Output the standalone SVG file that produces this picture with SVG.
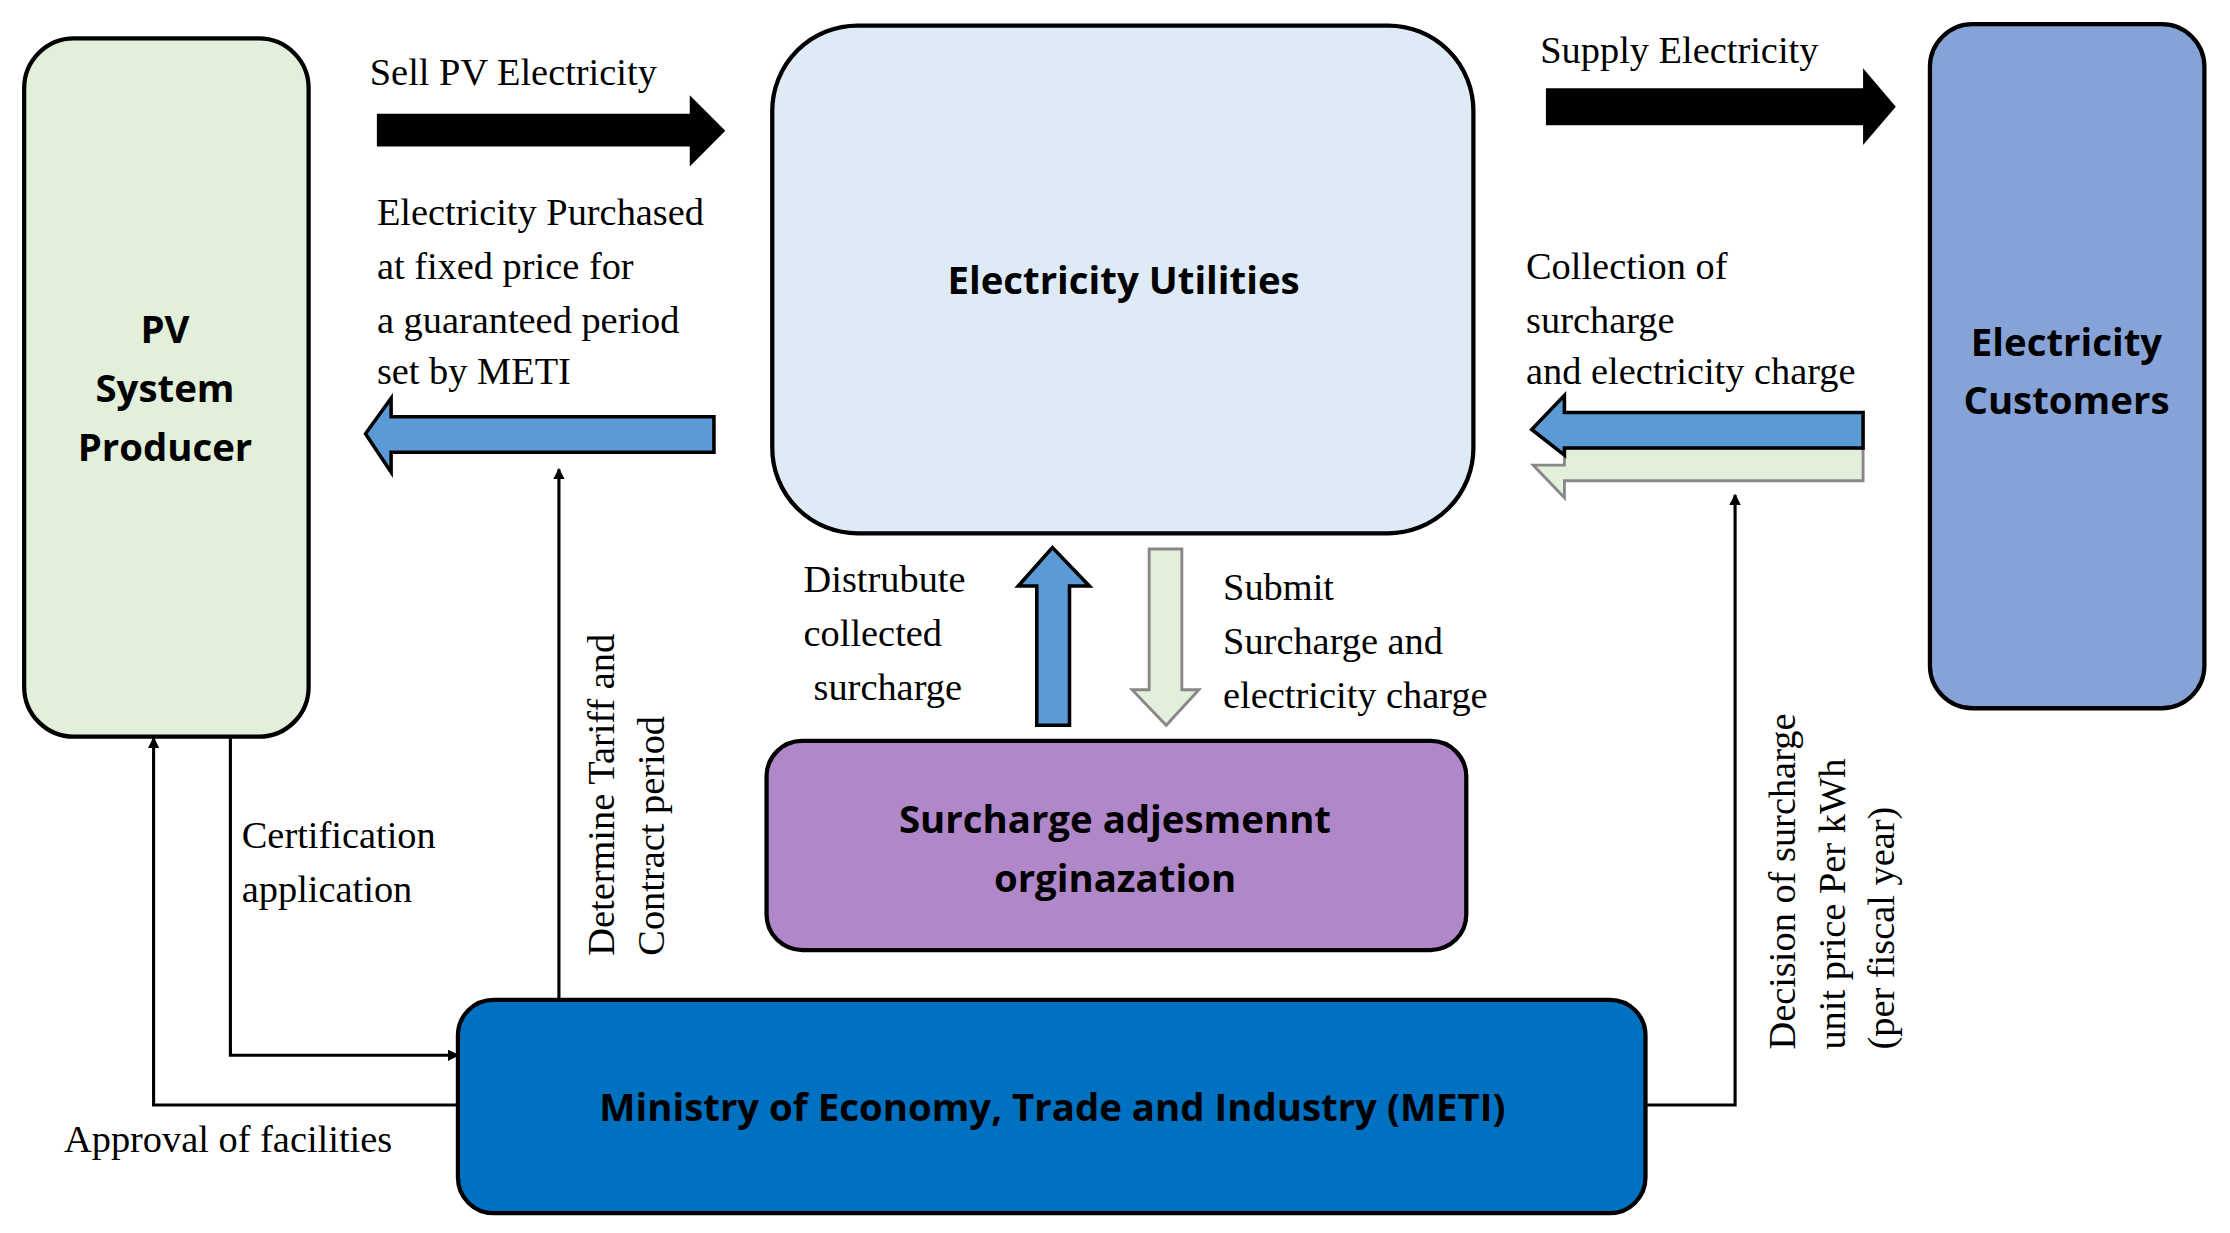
<svg xmlns="http://www.w3.org/2000/svg" width="2230" height="1233" viewBox="0 0 2230 1233">
<defs>
<style>
.n{stroke:#000;stroke-width:3}
.b{font-family:"Open Sans","Noto Sans",sans-serif;font-weight:700;font-size:27px;text-anchor:middle;fill:#000}
.t{font-family:"Liberation Serif",serif;font-size:27px;fill:#000}
.l{fill:none;stroke:#000;stroke-width:2.2}
</style>
<marker id="ah" markerWidth="8" markerHeight="8" refX="7" refY="4" orient="auto" markerUnits="userSpaceOnUse"><path d="M0,0L8,4L0,8z" fill="#000"/></marker>
</defs>
<rect width="2230" height="1233" fill="#fff"/>
<g transform="scale(1.4222)">
<g id="pv"><rect class="n" x="17" y="27" width="200" height="491" rx="35" fill="#e2efda"/>
<text class="b" x="116" y="241">PV</text><text class="b" x="116" y="283">System</text><text class="b" x="116" y="324">Producer</text></g>
<g id="utilities"><rect class="n" x="543" y="18" width="493" height="357" rx="60" fill="#deebf7"/>
<text class="b" x="790" y="207">Electricity Utilities</text></g>
<g id="customers"><rect class="n" x="1357" y="17" width="193" height="481" rx="30" fill="#86a3d8"/>
<text class="b" x="1453" y="250">Electricity</text><text class="b" x="1453" y="291">Customers</text></g>
<g id="surcharge"><rect class="n" x="539" y="521" width="492" height="147" rx="25" fill="#b087c8"/>
<text class="b" x="784" y="586">Surcharge adjesmennt</text><text class="b" x="784" y="627">orginazation</text></g>
<g id="meti"><rect class="n" x="322" y="703" width="835" height="150" rx="25" fill="#0070c0"/>
<text class="b" x="740" y="788">Ministry of Economy, Trade and Industry (METI)</text></g>
<g id="connectors">
<path d="M265,80H485V67L510,92L485,117V103H265z" fill="#000"/>
<path d="M1087,62H1310V48L1333,75L1310,102V88H1087z" fill="#000"/>
<path d="M502,293H275V280L257,305L275,332V318H502z" fill="#5b9bd5" stroke="#000" stroke-width="2.5"/>
<path d="M1310,315H1100V327H1078L1100,350V338H1310z" fill="#e2efda" stroke="#888" stroke-width="2"/>
<path d="M1310,290H1100V278L1077,302L1100,320V315H1310z" fill="#5b9bd5" stroke="#000" stroke-width="2.5"/>
<path d="M729,510V412H716L740,385L766,412H752V510z" fill="#5b9bd5" stroke="#000" stroke-width="2.5"/>
<path d="M808,386H831V485H843L820,510L796,485H808z" fill="#e2efda" stroke="#888" stroke-width="2"/>
<path class="l" d="M393,703V330" marker-end="url(#ah)"/>
<path class="l" d="M162,518V742H322" marker-end="url(#ah)"/>
<path class="l" d="M322,777H108V519" marker-end="url(#ah)"/>
<path class="l" d="M1157,777H1220V348" marker-end="url(#ah)"/>
</g>
<g id="labels">
<text class="t" x="260" y="60">Sell PV Electricity</text>
<text class="t" x="1083" y="44">Supply Electricity</text>
<text class="t" x="265" y="158">Electricity Purchased</text>
<text class="t" x="265" y="196">at fixed price for</text>
<text class="t" x="265" y="234">a guaranteed period</text>
<text class="t" x="265" y="270">set by METI</text>
<text class="t" x="1073" y="196">Collection of</text>
<text class="t" x="1073" y="234">surcharge</text>
<text class="t" x="1073" y="270">and electricity charge</text>
<text class="t" x="565" y="416">Distrubute</text>
<text class="t" x="565" y="454">collected</text>
<text class="t" x="572" y="492">surcharge</text>
<text class="t" x="860" y="422">Submit</text>
<text class="t" x="860" y="460">Surcharge and</text>
<text class="t" x="860" y="498">electricity charge</text>
<text class="t" x="170" y="596">Certification</text>
<text class="t" x="170" y="634">application</text>
<text class="t" x="45" y="810">Approval of  facilities</text>
<text class="t" transform="translate(432,672) rotate(-90)">Determine Tariff and</text>
<text class="t" transform="translate(467,672) rotate(-90)">Contract period</text>
<text class="t" transform="translate(1262,738) rotate(-90)">Decision of surcharge</text>
<text class="t" transform="translate(1297,738) rotate(-90)">unit price Per kWh</text>
<text class="t" transform="translate(1332,738) rotate(-90)">(per fiscal year)</text>
</g>
</g>
</svg>
